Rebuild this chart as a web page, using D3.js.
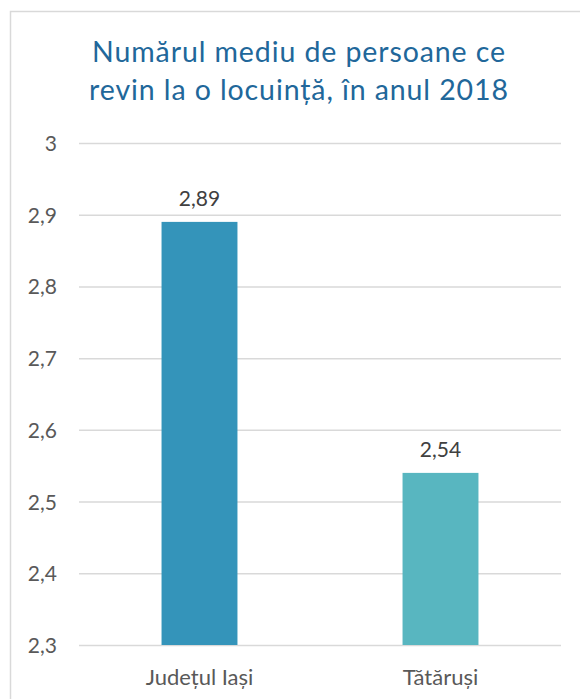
<!DOCTYPE html>
<html>
<head>
<meta charset="utf-8">
<script src="https://cdn.jsdelivr.net/npm/d3@7"></script>
<style>
  html, body { margin: 0; padding: 0; background: #fff; }
  svg { display: block; }
  text { font-family: Lato, "Open Sans", sans-serif; }
</style>
</head>
<body>
<svg id="chart" width="580" height="699"></svg>
<script>
const categories = ["Județul Iași", "Tătăruși"];
const values = [2.89, 2.54];
const barColors = ["#3494BA", "#58B6C0"];
const yTicks = [2.3, 2.4, 2.5, 2.6, 2.7, 2.8, 2.9, 3];
const titleLines = ["Numărul mediu de persoane ce", "revin la o locuință, în anul 2018"];

const ro = d3.formatLocale({decimal: ",", thousands: ".", grouping: [3], currency: ["", " lei"]});
const tickFmt = v => ro.format("~g")(v);
const valFmt = ro.format(".2f");

const svg = d3.select("#chart");

// chart border
svg.append("rect")
  .attr("x", 10.5).attr("y", 11.5)
  .attr("width", 600).attr("height", 720)
  .attr("fill", "#fff")
  .attr("stroke", "#D9D9D9").attr("stroke-width", 1.5);

// title
const title = svg.append("text")
  .attr("text-anchor", "middle")
  .attr("fill", "#21679A")
  .attr("font-size", 28.5)
  .attr("letter-spacing", 0.9);
titleLines.forEach((t, i) => {
  title.append("tspan").attr("x", 299).attr("y", 62 + i * 38).text(t);
});

const pLeft = 79, pRight = 561, pTop = 143, pBottom = 645;
const x = d3.scaleBand().domain(categories).range([pLeft, pRight])
  .paddingInner(0.685).paddingOuter(0.3425);
const y = d3.scaleLinear().domain([2.3, 3]).range([pBottom, pTop]);

// gridlines + y labels
const yAxis = svg.append("g")
  .attr("transform", `translate(${pLeft},0)`)
  .call(d3.axisLeft(y).tickValues(yTicks).tickFormat(tickFmt)
    .tickSize(-(pRight - pLeft)).tickPadding(22));
yAxis.select(".domain").remove();
yAxis.selectAll(".tick line").attr("stroke", "#D9D9D9").attr("stroke-width", 1.5);
yAxis.selectAll(".tick text")
  .attr("fill", "#595959").attr("font-size", 21).attr("dy", "0.36em");

// bars
svg.append("g").selectAll("rect")
  .data(categories)
  .join("rect")
  .attr("x", d => x(d))
  .attr("width", x.bandwidth())
  .attr("y", (d, i) => y(values[i]))
  .attr("height", (d, i) => y(2.3) - y(values[i]))
  .attr("fill", (d, i) => barColors[i]);

// data labels
svg.append("g").selectAll("text")
  .data(categories)
  .join("text")
  .attr("x", d => x(d) + x.bandwidth() / 2)
  .attr("y", (d, i) => y(values[i]) - 16)
  .attr("text-anchor", "middle")
  .attr("fill", "#404040")
  .attr("font-size", 21)
  .text((d, i) => valFmt(values[i]));

// x axis labels
const xAxis = svg.append("g")
  .attr("transform", `translate(0,${pBottom})`)
  .call(d3.axisBottom(x).tickSize(0).tickPadding(24));
xAxis.select(".domain").remove();
xAxis.selectAll(".tick text")
  .attr("fill", "#595959").attr("font-size", 22).attr("dy", "0.71em");
</script>
</body>
</html>
